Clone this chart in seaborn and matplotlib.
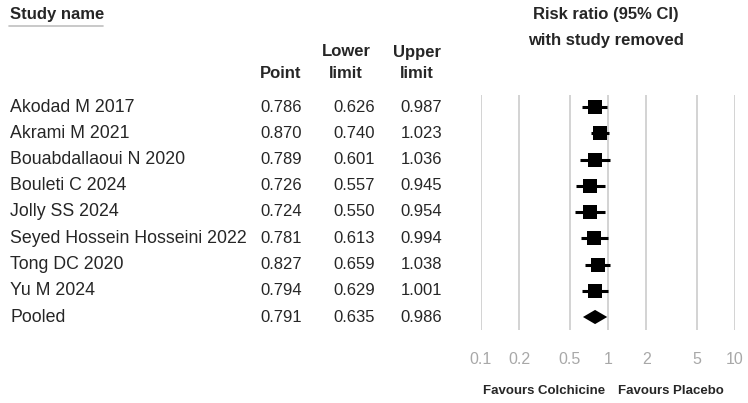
import matplotlib
matplotlib.use("Agg")
import matplotlib.pyplot as plt
import matplotlib.transforms as mtransforms
import seaborn as sns
import numpy as np
import pandas as pd

# study data (risk ratio with study removed)
studies = ["Akodad M 2017", "Akrami M 2021", "Bouabdallaoui N 2020", "Bouleti C 2024",
           "Jolly SS 2024", "Seyed Hossein Hosseini 2022", "Tong DC 2020", "Yu M 2024"]
points = [0.786, 0.870, 0.789, 0.726, 0.724, 0.781, 0.827, 0.794]
lowers = [0.626, 0.740, 0.601, 0.557, 0.550, 0.613, 0.659, 0.629]
uppers = [0.987, 1.023, 1.036, 0.945, 0.954, 0.994, 1.038, 1.001]

pooled_name = "Pooled"
pooled_point = 0.791
pooled_lower = 0.635
pooled_upper = 0.986

x_ticks = [0.1, 0.2, 0.5, 1, 2, 5, 10]
x_tick_labels = ["0.1", "0.2", "0.5", "1", "2", "5", "10"]

W, H = 748, 403

sns.set_style("white")
plt.rcParams["font.family"] = ["Liberation Sans", "DejaVu Sans"]

df = pd.DataFrame({"study": studies, "point": points, "lower": lowers, "upper": uppers})
df["row"] = np.arange(len(df))
pooled_row = len(df)

fig = plt.figure(figsize=(W / 100, H / 100), dpi=100)

# forest axes in pixel layout
ax_left, ax_right, ax_top, ax_bottom = 481, 735, 95, 330
ax = fig.add_axes([ax_left / W, 1 - ax_bottom / H, (ax_right - ax_left) / W, (ax_bottom - ax_top) / H])
ax.set_xscale("log")
ax.set_xlim(0.1, 10)
pitch = 26.25
ax.set_ylim(pooled_row + (ax_bottom - 317) / pitch, -(107 - ax_top) / pitch)

for t in x_ticks:
    ax.axvline(t, color="#c8c8c8", lw=1.1, zorder=0)

ax.hlines(df["row"], df["lower"], df["upper"], color="black", lw=2.2, zorder=2)
sns.scatterplot(data=df, x="point", y="row", marker="s", s=115, color="black",
                edgecolor="black", linewidth=0, ax=ax, zorder=3, legend=False)

# pooled diamond
dh = 0.27
ax.fill([pooled_lower, pooled_point, pooled_upper, pooled_point],
        [pooled_row, pooled_row - dh, pooled_row, pooled_row + dh], color="black", lw=0, zorder=3)

for s in ax.spines.values():
    s.set_visible(False)
ax.set_yticks([])
ax.set_xticks(x_ticks)
ax.set_xticklabels(x_tick_labels)
ax.xaxis.set_minor_locator(matplotlib.ticker.NullLocator())
ax.tick_params(axis="x", length=0, pad=16, labelsize=11.5, labelcolor="#a8a8a8")
ax.set_xlabel("")
ax.set_ylabel("")

# table text: x in figure pixels, y in data rows
trans = mtransforms.blended_transform_factory(fig.transFigure, ax.transData)
fs = 12
fs_name = 12.8
for i, r in df.iterrows():
    fig.text(10 / W, r["row"], r["study"], transform=trans, ha="left", va="center", fontsize=fs_name)
    fig.text(302 / W, r["row"], f"{r['point']:.3f}", transform=trans, ha="right", va="center", fontsize=fs)
    fig.text(375 / W, r["row"], f"{r['lower']:.3f}", transform=trans, ha="right", va="center", fontsize=fs)
    fig.text(442 / W, r["row"], f"{r['upper']:.3f}", transform=trans, ha="right", va="center", fontsize=fs)
fig.text(10 / W, pooled_row, pooled_name, transform=trans, ha="left", va="center", fontsize=fs_name)
fig.text(302 / W, pooled_row, f"{pooled_point:.3f}", transform=trans, ha="right", va="center", fontsize=fs)
fig.text(375 / W, pooled_row, f"{pooled_lower:.3f}", transform=trans, ha="right", va="center", fontsize=fs)
fig.text(442 / W, pooled_row, f"{pooled_upper:.3f}", transform=trans, ha="right", va="center", fontsize=fs)


def ftext(x, y, s, **kw):
    fig.text(x / W, 1 - y / H, s, va="center", fontsize=fs, fontweight="bold", **kw)


ftext(10, 15, "Study name", ha="left")
fig.add_artist(plt.Line2D([9 / W, 103 / W], [1 - 26 / H, 1 - 26 / H], color="#c0c0c0", lw=1.2))
ftext(281, 73, "Point", ha="center")
ftext(346, 52, "Lower", ha="center")
ftext(346, 73, "limit", ha="center")
ftext(417, 52, "Upper", ha="center")
ftext(417, 73, "limit", ha="center")
ftext(606, 15, "Risk ratio (95% CI)", ha="center")
ftext(606, 40, "with study removed", ha="center")

fig.text(605 / W, 1 - 391 / H, "Favours Colchicine", ha="right", va="center", fontsize=9.5, fontweight="bold")
fig.text(618 / W, 1 - 391 / H, "Favours Placebo", ha="left", va="center", fontsize=9.5, fontweight="bold")

fig.savefig("out.png", dpi=100, facecolor="white")
